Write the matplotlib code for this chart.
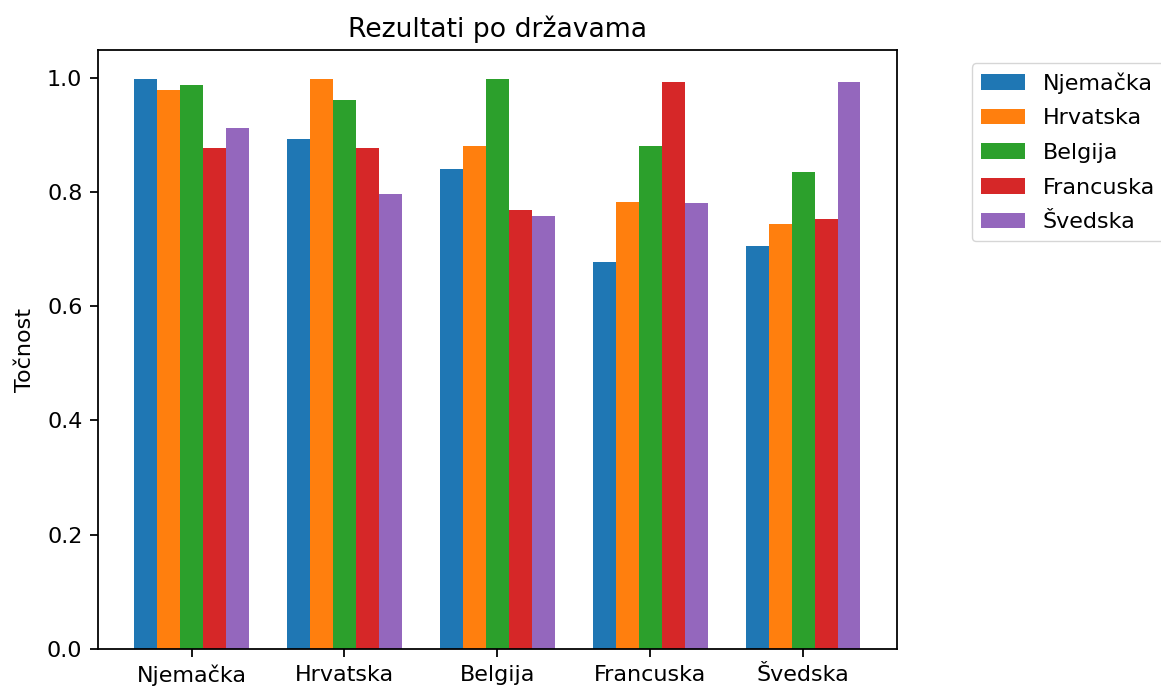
import numpy as np
import matplotlib
matplotlib.use("Agg")
import matplotlib.pyplot as plt

countries = ["Njemačka", "Hrvatska", "Belgija", "Francuska", "Švedska"]
series_names = ["Njemačka", "Hrvatska", "Belgija", "Francuska", "Švedska"]

# accuracy of each model (series) evaluated on each country's data (groups)
njemacka = [0.998, 0.893, 0.840, 0.678, 0.706]
hrvatska = [0.978, 0.998, 0.880, 0.783, 0.744]
belgija = [0.987, 0.961, 0.998, 0.880, 0.834]
francuska = [0.877, 0.877, 0.768, 0.992, 0.752]
svedska = [0.911, 0.796, 0.757, 0.780, 0.992]

series = [njemacka, hrvatska, belgija, francuska, svedska]

scale = 1.6
plt.rcParams.update({
    "font.size": 10 * scale,
    "axes.linewidth": 0.8 * scale,
    "xtick.major.width": 0.8 * scale,
    "ytick.major.width": 0.8 * scale,
    "xtick.major.size": 3.5 * scale,
    "ytick.major.size": 3.5 * scale,
    "xtick.major.pad": 3.5 * scale,
    "ytick.major.pad": 3.5 * scale,
    "axes.titlepad": 6 * scale,
    "legend.edgecolor": "#cccccc",
})

fig = plt.figure(figsize=(11.61, 6.86), dpi=100)
ax = fig.add_axes([0.0844, 0.0539, 0.688, 0.873])

x = np.arange(len(countries))
width = 0.15
for i, (name, vals) in enumerate(zip(series_names, series)):
    ax.bar(x + (i - 2) * width, vals, width, label=name)

ax.set_xticks(x)
ax.set_xticklabels(countries)
ax.set_ylabel("Točnost", labelpad=8.5)
ax.set_title("Rezultati po državama", fontsize=12 * scale)
ax.legend(loc="upper left", bbox_to_anchor=(1.094, 0.978), borderaxespad=0,
          labelspacing=0.66)

fig.savefig("out.png", dpi=100)
